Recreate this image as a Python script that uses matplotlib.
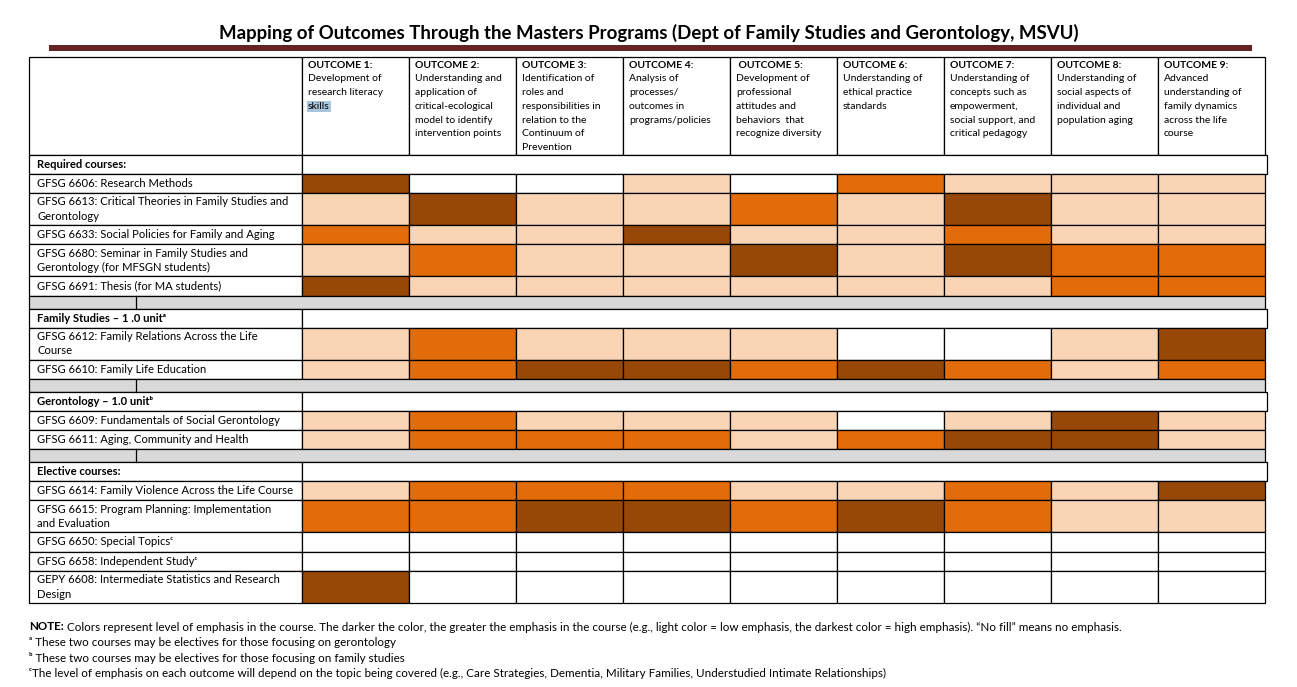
import matplotlib
matplotlib.use("Agg")
import matplotlib.pyplot as plt
from matplotlib.patches import Rectangle

plt.rcParams['font.family'] = ['Lato', 'DejaVu Sans']

# --- Daten ---
title = "Mapping of Outcomes Through the Masters Programs (Dept of Family Studies and Gerontology, MSVU)"

outcome_heads = ["OUTCOME 1:", "OUTCOME 2:", "OUTCOME 3:", "OUTCOME 4:", " OUTCOME 5:",
                 "OUTCOME 6:", "OUTCOME 7:", "OUTCOME 8:", "OUTCOME 9:"]
outcome_texts = [
    ["Development of", "research literacy", "skills"],
    ["Understanding and", "application of", "critical-ecological", "model to identify", "intervention points"],
    ["Identification of", "roles and", "responsibilities in", "relation to the", "Continuum of", "Prevention"],
    ["Analysis of", "processes/", "outcomes in", "programs/policies"],
    ["Development of", "professional", "attitudes and", "behaviors  that", "recognize diversity"],
    ["Understanding of", "ethical practice", "standards"],
    ["Understanding of", "concepts such as", "empowerment,", "social support, and", "critical pedagogy"],
    ["Understanding of", "social aspects of", "individual and", "population aging"],
    ["Advanced", "understanding of", "family dynamics", "across the life", "course"],
]

# Emphasis: 0 = no fill, 1 = light, 2 = medium, 3 = dark
required_courses = ["GFSG 6606: Research Methods",
                    "GFSG 6613: Critical Theories in Family Studies and\nGerontology",
                    "GFSG 6633: Social Policies for Family and Aging",
                    "GFSG 6680: Seminar in Family Studies and\nGerontology (for MFSGN students)",
                    "GFSG 6691: Thesis (for MA students)"]
required_levels = [[3, 0, 0, 1, 0, 2, 1, 1, 1],
                   [1, 3, 1, 1, 2, 1, 3, 1, 1],
                   [2, 1, 1, 3, 1, 1, 2, 1, 1],
                   [1, 2, 1, 1, 3, 1, 3, 2, 2],
                   [3, 1, 1, 1, 1, 1, 1, 2, 2]]

family_courses = ["GFSG 6612: Family Relations Across the Life\nCourse",
                  "GFSG 6610: Family Life Education"]
family_levels = [[1, 2, 1, 1, 1, 0, 0, 1, 3],
                 [1, 2, 3, 3, 2, 3, 2, 1, 2]]

geront_courses = ["GFSG 6609: Fundamentals of Social Gerontology",
                  "GFSG 6611: Aging, Community and Health"]
geront_levels = [[1, 2, 1, 1, 1, 0, 1, 3, 1],
                 [1, 2, 2, 2, 1, 2, 3, 3, 1]]

elective_courses = ["GFSG 6614: Family Violence Across the Life Course",
                    "GFSG 6615: Program Planning: Implementation\nand Evaluation",
                    "GFSG 6650: Special Topics\u1d9c",
                    "GFSG 6658: Independent Study\u1d9c",
                    "GEPY 6608: Intermediate Statistics and Research\nDesign"]
elective_levels = [[1, 2, 2, 2, 1, 1, 2, 1, 3],
                   [2, 2, 3, 3, 2, 3, 2, 1, 1],
                   [0, 0, 0, 0, 0, 0, 0, 0, 0],
                   [0, 0, 0, 0, 0, 0, 0, 0, 0],
                   [3, 0, 0, 0, 0, 0, 0, 0, 0]]

sections = [
    ("Required courses:", required_courses, required_levels),
    ("Family Studies \u2013 1 .0 unit\u1d43", family_courses, family_levels),
    ("Gerontology \u2013 1.0 unit\u1d47", geront_courses, geront_levels),
    ("Elective courses:", elective_courses, elective_levels),
]

note_lead = "NOTE:"
note_text = (" Colors represent level of emphasis in the course. The darker the color, the greater the emphasis "
             "in the course (e.g., light color = low emphasis, the darkest color = high emphasis). \u201cNo fill\u201d means no emphasis.")
footnotes = ["\u1d43 These two courses may be electives for those focusing on gerontology",
             "\u1d47 These two courses may be electives for those focusing on family studies",
             "\u1d9cThe level of emphasis on each outcome will depend on the topic being covered "
             "(e.g., Care Strategies, Dementia, Military Families, Understudied Intimate Relationships)"]

level_colors = ['white', '#FAD5B5', '#E26B0A', '#974806']

# --- Layout ---
W, H = 1297, 687
fig = plt.figure(figsize=(W / 100, H / 100), dpi=100)
ax = fig.add_axes([0, 0, 1, 1])
ax.set_xlim(0, W)
ax.set_ylim(H, 0)
ax.axis('off')

x0, x_lab, col_w = 29, 302, 107.0
x_end = x_lab + 9 * col_w
lw = 0.9
fs_body, fs_head, fs_note = 8.1, 7.45, 8.4


def cell(x, y, w, h, fc='white'):
    ax.add_patch(Rectangle((x, y), w, h, facecolor=fc, edgecolor='black', lw=lw))


# Titel und Balken
ax.text(W / 2, 33, title, ha='center', va='center', fontsize=13.4, fontweight='bold')
ax.add_patch(Rectangle((49, 45), 1203, 6, facecolor='#632523', edgecolor='none'))

# Kopfzeile
y = 57
head_h = 98
cell(x0, y, x_lab - x0, head_h)
for j in range(9):
    cx = x_lab + j * col_w
    cell(cx, y, col_w, head_h)
    ax.text(cx + 6, y + 8, outcome_heads[j], ha='left', va='center', fontsize=fs_head, fontweight='bold')
    for k, line in enumerate(outcome_texts[j]):
        kw = {}
        if line == "skills":
            kw['bbox'] = dict(boxstyle='square,pad=0.1', facecolor='#A9C5DC', edgecolor='none')
        ax.text(cx + 6, y + 8 + 13.8 * (k + 1), line, ha='left', va='center', fontsize=fs_head, **kw)
y += head_h

# Abschnitte
for s, (sec_title, courses, levels) in enumerate(sections):
    if s > 0:
        cell(x0, y, x_end - x0, 13, fc='#D9D9D9')
        ax.plot([136, 136], [y, y + 13], color='black', lw=lw)
        y += 13
    cell(x0, y, x_lab - x0, 19)
    cell(x_lab, y, x_end - x_lab + 2, 19)
    ax.text(x0 + 8, y + 9.5, sec_title, ha='left', va='center', fontsize=fs_body, fontweight='bold')
    y += 19
    for name, lv in zip(courses, levels):
        h = 32 if '\n' in name else 19.2
        cell(x0, y, x_lab - x0, h)
        ax.text(x0 + 8, y + h / 2, name, ha='left', va='center', fontsize=fs_body, linespacing=1.4)
        for j, v in enumerate(lv):
            cell(x_lab + j * col_w, y, col_w, h, fc=level_colors[v])
        y += h

# Anmerkungen
renderer = fig.canvas.get_renderer()
t = ax.text(x0, 627, note_lead, ha='left', va='center', fontsize=fs_note, fontweight='bold')
bb = t.get_window_extent(renderer=renderer)
x_after = ax.transData.inverted().transform((bb.x1, 0))[0]
ax.text(x_after, 627, note_text, ha='left', va='center', fontsize=fs_note)
for i, fn in enumerate(footnotes):
    ax.text(x0, 642 + 15.5 * i, fn, ha='left', va='center', fontsize=fs_note)

fig.savefig("out.png", dpi=100)
